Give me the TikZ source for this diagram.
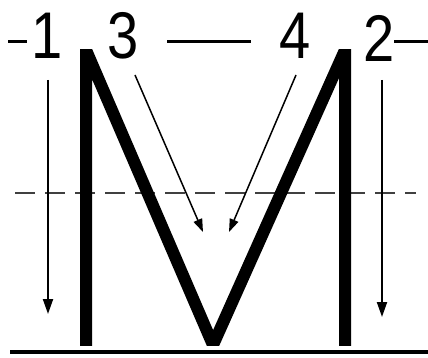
\documentclass[tikz,border=0pt]{standalone}
\usepackage{fontspec}
\setmainfont{Liberation Sans}
\usetikzlibrary{arrows.meta}
\begin{document}
\begin{tikzpicture}[x=1pt,y=-1pt,
  digit/.style={inner sep=0pt,font=\fontsize{66}{66}\selectfont,xscale=0.85},
  dashbar/.style={line width=3pt},
  guide/.style={line width=2pt,-{Triangle[length=15pt,width=10pt]}},
  slant/.style={line width=1.5pt,-{Triangle[length=13pt,width=9pt]}},
  letter/.style={line width=12pt,miter limit=20,line join=miter}]
\useasboundingbox (0,0) rectangle (428,358);
\fill[white] (0,0) rectangle (428,358);
% labels
\node[digit] (n1) at (47,36) {1};
\node[digit] (n3) at (123,36) {3};
\node[digit] (n4) at (295,36) {4};
\node[digit] (n2) at (379,38) {2};
% dashes
\coordinate (d1a) at (8,42); \coordinate (d1b) at (27,42);
\coordinate (d2a) at (167,42); \coordinate (d2b) at (251,42);
\coordinate (d3a) at (394,42); \coordinate (d3b) at (428,42);
\draw[dashbar] (d1a) -- (d1b);
\draw[dashbar] (d2a) -- (d2b);
\draw[dashbar] (d3a) -- (d3b);
% midline
\coordinate (mA) at (15,193); \coordinate (mB) at (416,193);
\draw[line width=1.8pt,black!75,dash pattern=on 20pt off 10pt] (mA) -- (mB);
% baseline
\coordinate (bA) at (10,352); \coordinate (bB) at (428,352);
\draw[line width=3.5pt] (bA) -- (bB);
% M
\begin{scope}
\clip (0,50) rectangle (428,345);
\coordinate (m1) at (86,360); \coordinate (m2) at (86,30);
\coordinate (m3) at (213,360); \coordinate (m4) at (345,30); \coordinate (m5) at (345,360);
\draw[letter] (m1) -- (86,50) -- (213,345) -- (345,50) -- (m5);
\end{scope}
% arrows
\coordinate (a1s) at (48,80); \coordinate (a1e) at (48,314);
\coordinate (a2s) at (382,80); \coordinate (a2e) at (382,317);
\coordinate (a3s) at (135,75); \coordinate (a3e) at (203,232);
\coordinate (a4s) at (296,75); \coordinate (a4e) at (229,232);
\draw[guide] (a1s) -- (a1e);
\draw[guide] (a2s) -- (a2e);
\draw[slant] (a3s) -- (a3e);
\draw[slant] (a4s) -- (a4e);
\end{tikzpicture}
\end{document}
